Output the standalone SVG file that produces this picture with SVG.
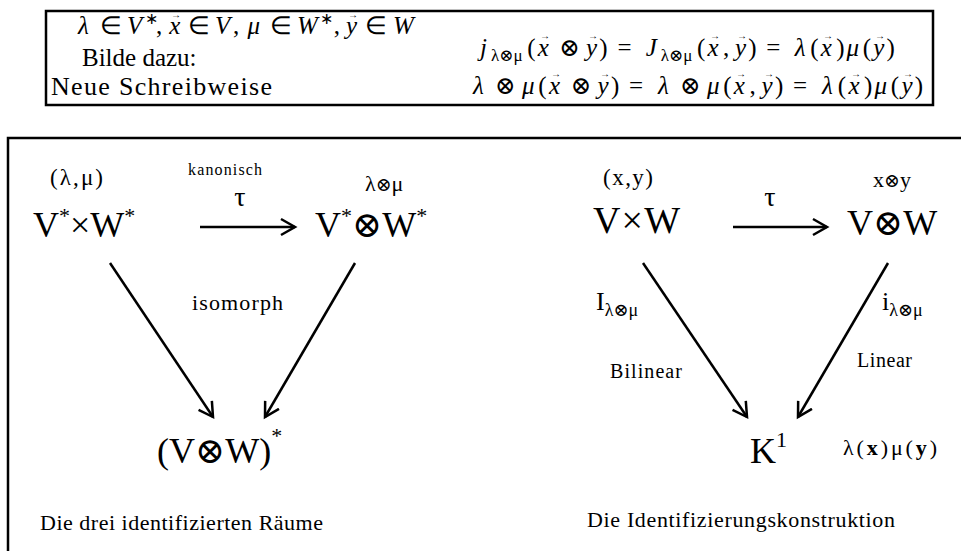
<svg xmlns="http://www.w3.org/2000/svg" width="961" height="551" viewBox="0 0 961 551">
<defs>
<style>
text{font-family:"Liberation Serif","Times New Roman",serif;fill:#000}
.it{font-style:italic}
.m{font-size:25px}
.sb{font-size:17px}
.ot{font-family:"DejaVu Serif","DejaVu Sans",serif;font-weight:normal}
.vec{font-size:10px;font-style:normal}
.big{font-size:36px}
.lab{font-size:23px}
.cap{font-size:22px}
.ln{stroke:#000;stroke-width:2.5;fill:none}
.frame{stroke:#000;stroke-width:2.5;fill:none}
</style>
<marker id="ah" markerUnits="userSpaceOnUse" markerWidth="20" markerHeight="20" refX="15" refY="9" orient="auto" viewBox="0 0 20 18">
<path d="M1,1 L15,9 L1,17" stroke="#000" stroke-width="2.5" fill="none"/>
</marker>
</defs>
<rect width="961" height="551" fill="#fff"/>

<g id="header">
<rect x="46" y="11" width="887" height="94" class="frame" stroke-width="2"/>
<text class="m" y="34"><tspan class="it" x="78">λ</tspan><tspan x="100">∈</tspan><tspan class="it" x="127">V</tspan><tspan x="145" y="24" font-size="16">∗</tspan><tspan x="156" y="34">,</tspan><tspan class="it" x="169.3">x</tspan><tspan class="vec" x="171" y="18">→</tspan><tspan x="188" y="34">∈</tspan><tspan class="it" x="215">V</tspan><tspan x="233">,</tspan><tspan class="it" x="247.4">μ</tspan><tspan x="270">∈</tspan><tspan class="it" x="297">W</tspan><tspan x="320" y="24" font-size="16">∗</tspan><tspan x="333.8" y="34">,</tspan><tspan class="it" x="345.9">y</tspan><tspan class="vec" x="348" y="18">→</tspan><tspan x="365" y="34">∈</tspan><tspan class="it" x="393">W</tspan></text>
<text x="82" y="66" font-size="25">Bilde dazu:</text>
<text x="51" y="95" font-size="26" textLength="221" lengthAdjust="spacing">Neue Schreibweise</text>

<text class="m" y="56"><tspan class="it" x="480">j</tspan><tspan class="sb" x="491" y="61">λ<tspan class="ot">⊗</tspan>μ</tspan><tspan x="527.3" y="56">(</tspan><tspan class="it" x="537.8">x</tspan><tspan class="vec" x="540" y="39">→</tspan><tspan class="ot" x="559.1" y="56">⊗</tspan><tspan class="it" x="586">y</tspan><tspan class="vec" x="588" y="39">→</tspan><tspan x="599.2" y="56">)</tspan><tspan x="617.4">=</tspan><tspan class="it" x="645.7">J</tspan><tspan class="sb" x="660.8" y="61">λ<tspan class="ot">⊗</tspan>μ</tspan><tspan x="697.1" y="56">(</tspan><tspan class="it" x="707.6">x</tspan><tspan class="vec" x="710" y="39">→</tspan><tspan x="722.9" y="56">,</tspan><tspan class="it" x="735">y</tspan><tspan class="vec" x="737" y="39">→</tspan><tspan x="748.2" y="56">)</tspan><tspan x="766.2">=</tspan><tspan class="it" x="794.7">λ</tspan><tspan x="810.3">(</tspan><tspan class="it" x="820.8">x</tspan><tspan class="vec" x="823" y="39">→</tspan><tspan x="836.2" y="56">)</tspan><tspan class="it" x="846.6">μ</tspan><tspan x="862.8">(</tspan><tspan class="it" x="873.3">y</tspan><tspan class="vec" x="875" y="39">→</tspan><tspan x="886.5" y="56">)</tspan></text>

<text class="m" y="94"><tspan class="it" x="473">λ</tspan><tspan class="ot" x="494.8">⊗</tspan><tspan class="it" x="522">μ</tspan><tspan x="538.3">(</tspan><tspan class="it" x="548.9">x</tspan><tspan class="vec" x="551" y="77">→</tspan><tspan class="ot" x="570.4" y="94">⊗</tspan><tspan class="it" x="597.6">y</tspan><tspan class="vec" x="600" y="77">→</tspan><tspan x="610.9" y="94">)</tspan><tspan x="629.1">=</tspan><tspan class="it" x="658">λ</tspan><tspan class="ot" x="679.7">⊗</tspan><tspan class="it" x="707">μ</tspan><tspan x="723.2">(</tspan><tspan class="it" x="733.8">x</tspan><tspan class="vec" x="736" y="77">→</tspan><tspan x="749.4" y="94">,</tspan><tspan class="it" x="761.6">y</tspan><tspan class="vec" x="764" y="77">→</tspan><tspan x="774.9" y="94">)</tspan><tspan x="793.1">=</tspan><tspan class="it" x="822">λ</tspan><tspan x="837.8">(</tspan><tspan class="it" x="848.4">x</tspan><tspan class="vec" x="851" y="77">→</tspan><tspan x="863.9" y="94">)</tspan><tspan class="it" x="874.5">μ</tspan><tspan x="890.8">(</tspan><tspan class="it" x="901.4">y</tspan><tspan class="vec" x="903" y="77">→</tspan><tspan x="914.7" y="94">)</tspan></text>
</g>

<path d="M8,560 L8,138 L970,138" class="frame"/>

<g id="connectors">
<line x1="200" y1="227" x2="295" y2="227" class="ln" marker-end="url(#ah)"/>
<line x1="110" y1="263" x2="213" y2="417" class="ln" marker-end="url(#ah)"/>
<line x1="355" y1="263" x2="265" y2="417" class="ln" marker-end="url(#ah)"/>
<line x1="733" y1="227" x2="827" y2="227" class="ln" marker-end="url(#ah)"/>
<line x1="643" y1="263" x2="747" y2="417" class="ln" marker-end="url(#ah)"/>
<line x1="888" y1="263" x2="798" y2="417" class="ln" marker-end="url(#ah)"/>
</g>

<g id="node-VxW-dual">
<text x="50" y="185" class="lab" textLength="53" lengthAdjust="spacing">(λ,μ)</text>
<text x="33" y="237" class="big">V<tspan font-size="22" dy="-14">*</tspan><tspan dy="14">×W</tspan><tspan font-size="22" dy="-14">*</tspan></text>
</g>
<g id="label-kanonisch">
<text x="188" y="175" font-size="16" textLength="74" lengthAdjust="spacing">kanonisch</text>
<text x="240" y="206" font-size="28" text-anchor="middle">τ</text>
</g>
<g id="node-VtensorW-dual">
<text x="365" y="191" font-size="22">λ<tspan class="ot" font-size="19">⊗</tspan>μ</text>
<text x="315" y="237" class="big">V<tspan font-size="22" dy="-14">*</tspan><tspan dy="14" class="ot">⊗</tspan><tspan>W</tspan><tspan font-size="22" dy="-14">*</tspan></text>
</g>
<g id="label-isomorph">
<text x="192" y="310" font-size="22" textLength="91" lengthAdjust="spacing">isomorph</text>
</g>
<g id="node-dual-tensor">
<text x="157" y="463" class="big">(V<tspan class="ot">⊗</tspan>W)<tspan font-size="22" dy="-20">*</tspan></text>
</g>
<g id="caption-left">
<text x="40" y="530" class="cap" textLength="283" lengthAdjust="spacing">Die drei identifizierten Räume</text>
</g>

<g id="node-VxW">
<text x="603" y="185" class="lab" textLength="50" lengthAdjust="spacing">(x,y)</text>
<text x="593" y="233" font-size="38" textLength="87" lengthAdjust="spacing">V×W</text>
</g>
<g id="label-tau">
<text x="770" y="206" font-size="28" text-anchor="middle">τ</text>
</g>
<g id="node-VtensorW">
<text x="873" y="187" font-size="22">x<tspan class="ot" font-size="19">⊗</tspan>y</text>
<text x="847" y="235" class="big">V<tspan class="ot">⊗</tspan>W</text>
</g>
<g id="label-I">
<text x="596" y="310" font-size="26">I<tspan font-size="18" dy="6">λ<tspan class="ot">⊗</tspan>μ</tspan></text>
<text x="610" y="378" font-size="20" textLength="72" lengthAdjust="spacing">Bilinear</text>
</g>
<g id="label-i">
<text x="882" y="310" font-size="26">i<tspan font-size="18" dy="6">λ<tspan class="ot">⊗</tspan>μ</tspan></text>
<text x="857" y="367" font-size="20" textLength="55" lengthAdjust="spacing">Linear</text>
</g>
<g id="node-K">
<text x="750" y="463" class="big">K<tspan font-size="22" dy="-16">1</tspan></text>
<text x="843" y="455" class="cap" textLength="94" lengthAdjust="spacing">λ(<tspan font-weight="bold">x</tspan>)μ(<tspan font-weight="bold">y</tspan>)</text>
</g>
<g id="caption-right">
<text x="587" y="527" class="cap" textLength="308" lengthAdjust="spacing">Die Identifizierungskonstruktion</text>
</g>
</svg>
